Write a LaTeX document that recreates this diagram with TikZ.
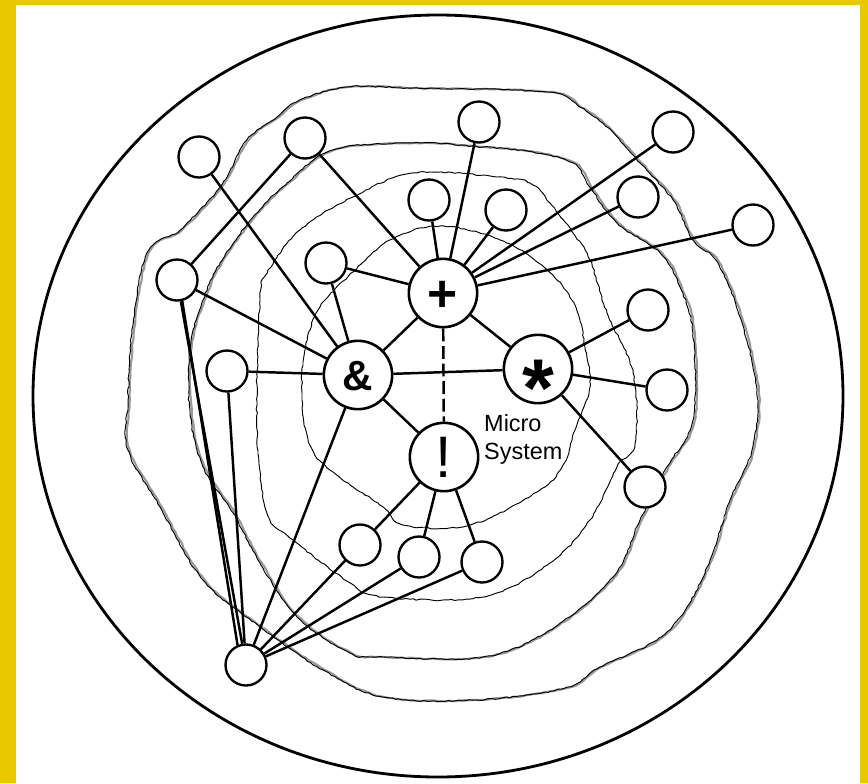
\documentclass[tikz,border=0pt]{standalone}
\usepackage{fontspec}
\setmainfont{Liberation Sans}
\usetikzlibrary{decorations.pathmorphing}
\definecolor{frameyellow}{RGB}{232,200,0}

\begin{document}
\begin{tikzpicture}[
  x=0.03cm, y=-0.03cm,
  sm/.style={circle, draw=black, line width=2pt, fill=white, inner sep=0pt,
             minimum size=1.23cm},
  big/.style={circle, draw=black, line width=2.2pt, fill=white, inner sep=0pt,
              minimum size=2.05cm, text height=0pt, text depth=0pt},
  ln/.style={draw=black, line width=2.1pt},
  ring/.style={draw=black, line width=0.8pt, decorate,
               decoration={random steps, segment length=3pt, amplitude=0.6pt}},
  shade/.style={draw=black!40, line width=1.8pt, decorate,
                decoration={random steps, segment length=4pt, amplitude=0.5pt}},
]
\pgfmathsetseed{11}

% ---- frame and outer circle ----
\fill[frameyellow] (0,0) rectangle (868,783);
\fill[white] (16,5) rectangle (860,783);
\draw[line width=2.4pt] (438,396) ellipse [x radius=405, y radius=381];

% ---- wavy rings ----
\draw[shade, xshift=1.5] plot[smooth cycle, tension=0.6] coordinates {
  (300,100) (347,87) (413,88) (547,92) (580,107) (607,127) (640,163) (673,200)
  (693,240) (717,262) (740,317) (757,390) (752,450) (730,500) (710,560)
  (687,607) (657,640) (600,667) (565,688) (476,700) (383,697) (323,670)
  (260,627) (203,580) (160,507) (128,450) (128,400) (132,333) (147,253)
  (180,230) (220,187) (247,140) (277,117)};
\draw[ring] plot[smooth cycle, tension=0.6] coordinates {
  (300,100) (347,87) (413,88) (547,92) (580,107) (607,127) (640,163) (673,200)
  (693,240) (717,262) (740,317) (757,390) (752,450) (730,500) (710,560)
  (687,607) (657,640) (600,667) (565,688) (476,700) (383,697) (323,670)
  (260,627) (203,580) (160,507) (128,450) (128,400) (132,333) (147,253)
  (180,230) (220,187) (247,140) (277,117)};
\draw[shade, xshift=1.5] plot[smooth cycle, tension=0.6] coordinates {
  (413,143) (483,147) (533,152) (573,163) (590,187) (617,223) (660,253)
  (680,287) (693,333) (693,420) (667,467) (640,520) (613,577) (550,630)
  (483,657) (383,657) (350,653) (297,617) (260,563) (233,513) (203,467)
  (190,413) (190,347) (203,300) (220,263) (253,217) (287,183) (333,150)};
\draw[ring] plot[smooth cycle, tension=0.6] coordinates {
  (413,143) (483,147) (533,152) (573,163) (590,187) (617,223) (660,253)
  (680,287) (693,333) (693,420) (667,467) (640,520) (613,577) (550,630)
  (483,657) (383,657) (350,653) (297,617) (260,563) (233,513) (203,467)
  (190,413) (190,347) (203,300) (220,263) (253,217) (287,183) (333,150)};
\draw[ring] plot[smooth cycle, tension=0.6] coordinates {
  (413,173) (497,177) (530,183) (550,203) (573,233) (590,260) (607,313)
  (633,373) (635,443) (617,467) (590,520) (550,563) (483,597) (383,597)
  (350,583) (293,540) (267,513) (257,430) (260,300) (267,273) (300,230)
  (353,197)};
\draw[ring] plot[smooth cycle, tension=0.6] coordinates {
  (440,226) (500,240) (545,268) (575,305) (585,347) (590,387) (575,430)
  (563,465) (540,490) (470,525) (403,525) (383,507) (330,470) (310,445)
  (302,400) (305,350) (320,307) (353,272) (390,240)};

% ---- hubs ----
\node[big, font=\fontsize{44}{44}\selectfont\bfseries]
  (plus) at (443,293) {\smash{\raisebox{-0.355em}{+}}};
\node[big, font=\fontsize{36}{36}\selectfont\bfseries]
  (amp) at (358,375) {\smash{\raisebox{-0.36em}{\&}}};
\node[big, font=\fontsize{70}{70}\selectfont\bfseries]
  (star) at (538,369) {\smash{\raisebox{-0.58em}{*}}};
\node[big, font=\fontsize{50}{50}\selectfont]
  (bang) at (444,457) {\smash{\raisebox{-0.358em}{!}}};

% ---- satellites ----
\node[sm] (o1)  at (199,157) {};
\node[sm] (o2)  at (305,138) {};
\node[sm] (o3)  at (177,280) {};
\node[sm] (o4)  at (227,371) {};
\node[sm] (o5)  at (326,263) {};
\node[sm] (o6)  at (479,122) {};
\node[sm] (o7)  at (429,200) {};
\node[sm] (o8)  at (506,210) {};
\node[sm] (o9)  at (673,132) {};
\node[sm] (o10) at (638,197) {};
\node[sm] (o11) at (753,225) {};
\node[sm] (o12) at (648,310) {};
\node[sm] (o13) at (667,390) {};
\node[sm] (o14) at (645,487) {};
\node[sm] (o15) at (360,545) {};
\node[sm] (o16) at (419,557) {};
\node[sm] (o17) at (482,562) {};
\node[sm] (hub) at (246,665) {};

\node[anchor=north west, inner sep=0pt, align=left,
      font=\fontsize{20}{24}\selectfont] (micro) at (484,414) {Micro\\System};

% ---- links ----
\foreach \a/\b in {plus/o2, plus/o5, plus/o6, plus/o7, plus/o8, plus/o9,
                   plus/o10, plus/o11, plus/amp, plus/star, amp/star, amp/bang,
                   amp/o1, amp/o3, amp/o4, amp/o5, amp/hub, star/o12, star/o13,
                   star/o14, bang/o15, bang/o16, bang/o17, hub/o3, hub/o4,
                   hub/o15, hub/o16, hub/o17, o2/o3}
  \draw[ln] (\a) -- (\b);
\draw[ln] (o3.-76) -- (hub.113);
\draw[ln, dash pattern=on 11pt off 4pt] (plus) -- (bang);

\end{tikzpicture}
\end{document}
